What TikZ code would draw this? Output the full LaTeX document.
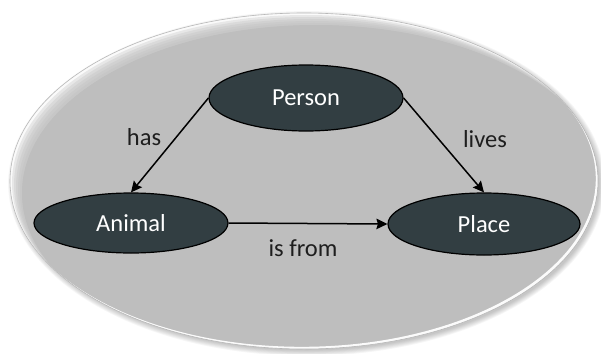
\documentclass[tikz,border=0pt]{standalone}
\usepackage{fontspec}
\setmainfont{Carlito}
\usetikzlibrary{shapes.geometric,arrows.meta}
\definecolor{slate}{HTML}{323E42}
\definecolor{panel}{HTML}{BEBEBE}
\definecolor{ink}{HTML}{1E1E1E}
\tikzset{
  concept/.style={ellipse, draw=black, line width=1.2pt, fill=slate, text=white,
    inner sep=0pt, font=\fontsize{24.5}{28}\selectfont},
  relation/.style={text=ink, inner sep=0pt, font=\fontsize{24.5}{28}\selectfont},
  link/.style={draw=black, line width=1.5pt, -{Stealth[length=11pt,width=10.5pt,inset=1.5pt]}},
}
\begin{document}
\begin{tikzpicture}[x=1pt,y=-1pt]
\useasboundingbox (0,0) rectangle (601,353);
\def\cx{304}\def\cy{181}\def\rx{294}\def\ry{168}
% soft drop shadow toward the lower right
\foreach \i in {0,...,6}
  \fill[black, opacity=0.035] (\cx+2.5,\cy+2.5) ellipse [x radius=\rx+\i*0.9-1, y radius=\ry+\i*0.9-1];
% gray face with a light bevel along the upper left
\begin{scope}
  \clip (\cx,\cy) ellipse [x radius=\rx, y radius=\ry];
  \fill[white!92!panel] (0,0) rectangle (601,353);
  \fill[panel] (\cx+12,\cy+12) ellipse [x radius=\rx, y radius=\ry];
  \foreach \d in {2,4,...,10}
    \fill[panel, opacity=0.3] (\cx+\d,\cy+\d) ellipse [x radius=\rx, y radius=\ry];
  % thin bright crescent along the lower right
  \fill[white, opacity=0.95, even odd rule]
    (\cx,\cy) ellipse [x radius=\rx, y radius=\ry]
    (\cx-2.2,\cy-2.2) ellipse [x radius=\rx, y radius=\ry];
\end{scope}
\draw[black!28, line width=0.6pt] (\cx,\cy) ellipse [x radius=\rx, y radius=\ry];

\node[concept, minimum width=194pt, minimum height=66pt] (person) at (306,98) {Person};
\node[concept, minimum width=194pt, minimum height=60pt] (animal) at (131,223) {Animal};
\node[concept, minimum width=192pt, minimum height=62pt] (place) at (484,224) {Place};

\draw[link] (person.west) -- (animal.north);
\draw[link] (person.east) -- (place.north);
\draw[link] (animal.east) -- (place.west);

\node[relation] (has) at (144,137) {has};
\node[relation] (lives) at (485,139) {lives};
\node[relation] (isfrom) at (303,248) {is from};
\end{tikzpicture}
\end{document}
